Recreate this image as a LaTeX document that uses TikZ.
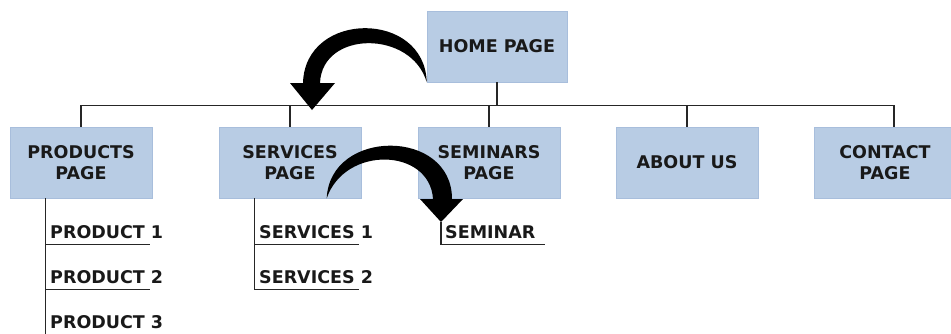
\documentclass[tikz,border=0pt]{standalone}
\usepackage{fontspec}
\setmainfont{DejaVu Sans}
\definecolor{boxblue}{RGB}{184,204,228}
\definecolor{boxedge}{RGB}{168,190,220}
\definecolor{inkgray}{RGB}{25,25,25}

\begin{document}
\begin{tikzpicture}[
    x=1pt, y=-1pt,
    font=\fontsize{17.5}{21}\selectfont\bfseries,
    page/.style={fill=boxblue, draw=boxedge, line width=0.6pt, minimum width=142, minimum height=71, align=center, text=inkgray, inner sep=2pt},
    item/.style={anchor=west, inner xsep=0pt, inner ysep=6pt, text=inkgray},
    link/.style={line width=1.3pt, black!85},
    swoosh/.style={fill=black}
]

\useasboundingbox (0,0) rectangle (951,333);
\clip (0,0) rectangle (951,333);

% === Top level ===
\node[page, minimum width=140] (home) at (497,46.5) {HOME PAGE};

% === Second level ===
\node[page] (products) at (81,162.5)  {PRODUCTS\\PAGE};
\node[page] (services) at (290,162.5) {SERVICES\\PAGE};
\node[page] (seminars) at (489,162.5) {SEMINARS\\PAGE};
\node[page] (about)    at (687,162.5) {ABOUT US};
\node[page] (contact)  at (885,162.5) {CONTACT\\PAGE};

% bus between the levels
\draw[link] (home.south) -- ++(0,23) coordinate (bus);
\draw[link] (bus) -| (products.north);
\draw[link] (bus) -| (services.north);
\draw[link] (bus) -| (seminars.north);
\draw[link] (bus) -| (about.north);
\draw[link] (bus) -| ([xshift=9pt]contact.north);

% === Products list ===
\coordinate (prodtrunk) at ([xshift=36pt]products.south west);
\node[item] (p1) at (50,232) {PRODUCT 1};
\node[item] (p2) at (50,277) {PRODUCT 2};
\node[item] (p3) at (50,322) {PRODUCT 3};
\draw[link] (prodtrunk) |- ([xshift=100pt]p1.south west);
\draw[link] (prodtrunk) |- ([xshift=100pt]p2.south west);
\draw[link] (prodtrunk) |- ([xshift=100pt]p3.south west);

% === Services list ===
\coordinate (servtrunk) at ([xshift=36pt]services.south west);
\node[item] (s1) at (259,232) {SERVICES 1};
\node[item] (s2) at (259,277) {SERVICES 2};
\draw[link] (servtrunk) |- ([xshift=100pt]s1.south west);
\draw[link] (servtrunk) |- ([xshift=100pt]s2.south west);

% === Seminar ===
\coordinate (semtop) at (441,222);
\node[item] (sem) at (445,232) {SEMINAR};
\draw[link] (semtop) |- ([xshift=100pt]sem.south west);

% curved arrow, home -> services
\fill[swoosh] (home.south west) .. controls (425,10) and (305,10) .. (303,83)
    -- (290,83) -- (312,110) -- (335,83) -- (320,83)
    .. controls (322,30) and (412,30) .. (home.south west) -- cycle;

% curved arrow, services -> seminar
\fill[swoosh] ([xshift=108pt]services.south west) .. controls (330,128) and (452,128) .. (452,199)
    -- (463,199) -- (semtop) -- (420,199) -- (433,199)
    .. controls (430,148) and (345,145) .. ([xshift=108pt]services.south west) -- cycle;

\end{tikzpicture}
\end{document}
